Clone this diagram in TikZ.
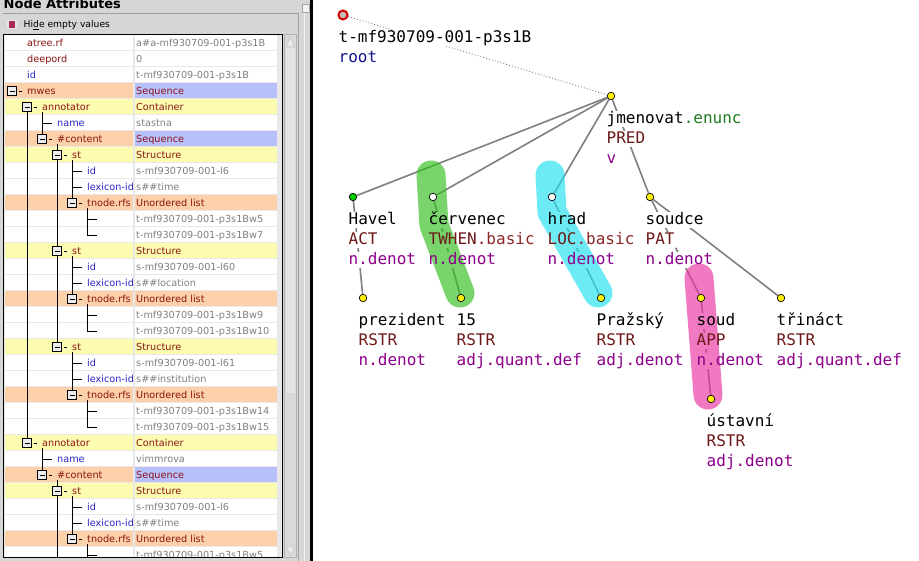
\documentclass[tikz,border=0pt]{standalone}
\usepackage{fontspec}
\setmainfont{DejaVu Sans}
\newfontfamily\treefont{DejaVu Sans Mono}

\definecolor{panel}{RGB}{214,214,214}
\definecolor{tablebg}{RGB}{232,232,232}
\definecolor{peach}{RGB}{252,208,168}
\definecolor{seqblue}{RGB}{184,192,252}
\definecolor{lemon}{RGB}{252,252,176}
\definecolor{attrred}{RGB}{140,20,20}
\definecolor{attrblue}{RGB}{40,40,200}
\definecolor{valgray}{RGB}{128,128,128}
\definecolor{boxpink}{RGB}{170,40,90}
\definecolor{functor}{RGB}{110,24,24}
\definecolor{basic}{RGB}{140,40,40}
\definecolor{nodetype}{RGB}{140,0,140}
\definecolor{enunc}{RGB}{30,125,30}
\definecolor{rootblue}{RGB}{20,20,140}
\definecolor{edgegray}{RGB}{128,128,128}
\definecolor{hgreen}{RGB}{50,190,30}
\definecolor{hcyan}{RGB}{30,225,240}
\definecolor{hpink}{RGB}{235,50,160}

\pgfdeclarelayer{back}
\pgfdeclarelayer{edges}
\pgfdeclarelayer{masks}
\pgfdeclarelayer{hatch}
\pgfsetlayers{back,edges,masks,hatch,main}

\begin{document}
\begin{tikzpicture}[x=1pt,y=-1pt,
    tab/.style={anchor=base west,inner sep=0pt,font=\fontsize{9.7}{11}\selectfont},
    lab/.style={anchor=base west,inner xsep=1pt,inner ysep=0pt,text height=12pt,text depth=3pt,
                font=\treefont\fontsize{16}{20}\selectfont},
    dot/.style={circle,draw,inner sep=0pt,minimum size=7.5pt,line width=.7pt},
    rootdot/.style={circle,draw=red!85!black,fill=gray!50,line width=2pt,inner sep=0pt,minimum size=9pt},
    edge/.style={edgegray,line width=1.6pt},
    rootedge/.style={edgegray,line width=.8pt,dash pattern=on 1pt off 2pt},
    hatch/.style={draw=#1,line width=29pt,line cap=round,line join=round,draw opacity=.65},
    expander/.style={draw,fill=gray!15,minimum size=9pt,inner sep=0pt,line width=.8pt,
                     path picture={\draw[line width=.8pt] (path picture bounding box.center) ++(-2.5pt,0) -- ++(5pt,0);}}]

    \useasboundingbox (0,0) rectangle (919,561);

    % panels
    \begin{pgfonlayer}{back}
        \fill[white] (313,0) rectangle (919,561);
    \end{pgfonlayer}
    \fill[panel] (0,0) rectangle (310,561);
    \fill[black] (310,0) rectangle (313,561);
    \draw[gray!75] (2.5,13.5) -- (298.5,13.5) -- (298.5,561);
    \draw[white!90!gray] (304.5,12) -- (304.5,561);
    \draw[gray!70,fill=gray!10] (302.5,4.5) rectangle (309.5,12.5);

    \node (title) [anchor=base west,inner sep=0pt,font=\bfseries\fontsize{13}{15}\selectfont] at (3.5,8.3) {Node Attributes};
    \node (hidebox) [draw=gray!20,fill=boxpink,line width=1.2pt,minimum size=8pt,inner sep=0pt] at (12,24.5) {};
    \node (hidelbl) [tab,font=\fontsize{9.2}{11}\selectfont] at (23.5,27.5) {Hi\underline{d}e empty values};

    % attribute table
    \fill[tablebg] (3,34) rectangle (283,558);
    \begin{scope}
        \clip (3.5,34.5) rectangle (282.5,557.5);
        \foreach \ry/\tx/\nm/\nc/\val/\vc/\lc/\rc [count=\i] in {
            43/27/atree.rf/attrred/a\#a-mf930709-001-p3s1B/valgray/white/white,
            59/27/deepord/attrred/0/valgray/white/white,
            75/27/id/attrblue/t-mf930709-001-p3s1B/valgray/white/white,
            91/27/mwes/attrred/Sequence/attrred/peach/seqblue,
            107/42/annotator/attrred/Container/attrred/lemon/lemon,
            123/57/name/attrblue/stastna/valgray/white/white,
            139/57/\#content/attrred/Sequence/attrred/peach/seqblue,
            155/72/st/attrred/Structure/attrred/lemon/lemon,
            171/87/id/attrblue/s-mf930709-001-l6/valgray/white/white,
            187/87/lexicon-id/attrblue/s\#\#time/valgray/white/white,
            203/87/tnode.rfs/attrred/Unordered list/attrred/peach/peach,
            219/87//attrred/t-mf930709-001-p3s1Bw5/valgray/white/white,
            235/87//attrred/t-mf930709-001-p3s1Bw7/valgray/white/white,
            251/72/st/attrred/Structure/attrred/lemon/lemon,
            267/87/id/attrblue/s-mf930709-001-l60/valgray/white/white,
            283/87/lexicon-id/attrblue/s\#\#location/valgray/white/white,
            299/87/tnode.rfs/attrred/Unordered list/attrred/peach/peach,
            315/87//attrred/t-mf930709-001-p3s1Bw9/valgray/white/white,
            331/87//attrred/t-mf930709-001-p3s1Bw10/valgray/white/white,
            347/72/st/attrred/Structure/attrred/lemon/lemon,
            363/87/id/attrblue/s-mf930709-001-l61/valgray/white/white,
            379/87/lexicon-id/attrblue/s\#\#institution/valgray/white/white,
            395/87/tnode.rfs/attrred/Unordered list/attrred/peach/peach,
            411/87//attrred/t-mf930709-001-p3s1Bw14/valgray/white/white,
            427/87//attrred/t-mf930709-001-p3s1Bw15/valgray/white/white,
            443/42/annotator/attrred/Container/attrred/lemon/lemon,
            459/57/name/attrblue/vimmrova/valgray/white/white,
            475/57/\#content/attrred/Sequence/attrred/peach/seqblue,
            491/72/st/attrred/Structure/attrred/lemon/lemon,
            507/87/id/attrblue/s-mf930709-001-l6/valgray/white/white,
            523/87/lexicon-id/attrblue/s\#\#time/valgray/white/white,
            539/87/tnode.rfs/attrred/Unordered list/attrred/peach/peach,
            555/87//attrred/t-mf930709-001-p3s1Bw5/valgray/white/white}{
            \fill[\lc] (5,\ry-8) rectangle (133,\ry+7);
            \fill[\rc] (135,\ry-8) rectangle (277,\ry+7);
            \node (nm\i) [tab,\nc] at (\tx,\ry+3.5) {\nm};
            \node (val\i) [tab,\vc] at (136,\ry+3.5) {\val};
        }

        % tree lines
        \draw (27,107) -- (27,443);
        \draw (42,112) -- (42,139)  (42,123) -- (52,123);
        \draw (57,144) -- (57,347);
        \draw (72,160) -- (72,203)  (72,171) -- (82,171)  (72,187) -- (82,187);
        \draw (87,208) -- (87,235)  (87,219) -- (97,219)  (87,235) -- (97,235);
        \draw (72,256) -- (72,299)  (72,267) -- (82,267)  (72,283) -- (82,283);
        \draw (87,304) -- (87,331)  (87,315) -- (97,315)  (87,331) -- (97,331);
        \draw (72,352) -- (72,395)  (72,363) -- (82,363)  (72,379) -- (82,379);
        \draw (87,400) -- (87,427)  (87,411) -- (97,411)  (87,427) -- (97,427);
        \draw (42,448) -- (42,475)  (42,459) -- (52,459);
        \draw (57,480) -- (57,560);
        \draw (72,496) -- (72,539)  (72,507) -- (82,507)  (72,523) -- (82,523);
        \draw (87,544) -- (87,560)  (87,555) -- (97,555);

        \foreach \bx/\by in {12/91,27/107,42/139,57/155,72/203,57/251,72/299,57/347,
                             72/395,27/443,42/475,57/491,72/539}{
            \node (exp\by) [expander] at (\bx,\by) {};
            \draw (\bx+7,\by) -- (\bx+9.5,\by);
        }
    \end{scope}
    \draw[line width=1pt] (3.5,34.5) rectangle (282.5,557.5);

    % scrollbar
    \draw[gray!60,fill=gray!30] (284.5,34.5) rectangle (296.5,557.5);
    \draw[white!80!gray,fill=gray!22] (286.5,48.5) rectangle (294.5,392);
    \draw[gray!55,fill=gray!15] (286.5,46) -- (290.5,37.5) -- (294.5,46) -- cycle;
    \draw[gray!55,fill=gray!15] (286.5,547) -- (290.5,555.5) -- (294.5,547) -- cycle;

    % dependency tree
    \path   (343,15)  node (root)   [rootdot] {}
            (611,96)  node (jm)     [dot,fill=yellow] {}
            (353,197) node (hav)    [dot,fill=green!80!black] {}
            (433,197) node (cerv)   [dot,fill=white] {}
            (552,197) node (hrad)   [dot,fill=white] {}
            (650,197) node (soudce) [dot,fill=yellow] {}
            (363,298) node (prez)   [dot,fill=yellow] {}
            (461,298) node (n15)    [dot,fill=yellow] {}
            (601,298) node (praz)   [dot,fill=yellow] {}
            (701,298) node (soud)   [dot,fill=yellow] {}
            (781,298) node (trin)   [dot,fill=yellow] {}
            (711,399) node (ustav)  [dot,fill=yellow] {};

    \path   (337.5,42.5)  node (rootA) [lab] {t-mf930709-001-p3s1B}
            (337.5,62.5)  node (rootB) [lab,rootblue] {root}
            (605.5,123.5) node (jmA)   [lab] {jmenovat\textcolor{enunc}{.enunc}}
            (605.5,143.5) node (jmB)   [lab,functor] {PRED}
            (605.5,163.5) node (jmC)   [lab,nodetype] {v}
            (347.5,224.5) node (havA)  [lab] {Havel}
            (347.5,244.5) node (havB)  [lab,functor] {ACT}
            (347.5,264.5) node (havC)  [lab,nodetype] {n.denot}
            (427.5,224.5) node (cervA) [lab] {červenec}
            (427.5,244.5) node (cervB) [lab,functor] {TWHEN\textcolor{basic}{.basic}}
            (427.5,264.5) node (cervC) [lab,nodetype] {n.denot}
            (546.5,224.5) node (hradA) [lab] {hrad}
            (546.5,244.5) node (hradB) [lab,functor] {LOC\textcolor{basic}{.basic}}
            (546.5,264.5) node (hradC) [lab,nodetype] {n.denot}
            (644.5,224.5) node (soudceA) [lab] {soudce}
            (644.5,244.5) node (soudceB) [lab,functor] {PAT}
            (644.5,264.5) node (soudceC) [lab,nodetype] {n.denot}
            (357.5,325.5) node (prezA) [lab] {prezident}
            (357.5,345.5) node (prezB) [lab,functor] {RSTR}
            (357.5,365.5) node (prezC) [lab,nodetype] {n.denot}
            (455.5,325.5) node (n15A)  [lab] {15}
            (455.5,345.5) node (n15B)  [lab,functor] {RSTR}
            (455.5,365.5) node (n15C)  [lab,nodetype] {adj.quant.def}
            (595.5,325.5) node (prazA) [lab] {Pražský}
            (595.5,345.5) node (prazB) [lab,functor] {RSTR}
            (595.5,365.5) node (prazC) [lab,nodetype] {adj.denot}
            (695.5,325.5) node (soudA) [lab] {soud}
            (695.5,345.5) node (soudB) [lab,functor] {APP}
            (695.5,365.5) node (soudC) [lab,nodetype] {n.denot}
            (775.5,325.5) node (trinA) [lab] {třináct}
            (775.5,345.5) node (trinB) [lab,functor] {RSTR}
            (775.5,365.5) node (trinC) [lab,nodetype] {adj.quant.def}
            (705.5,426.5) node (ustavA) [lab] {ústavní}
            (705.5,446.5) node (ustavB) [lab,functor] {RSTR}
            (705.5,466.5) node (ustavC) [lab,nodetype] {adj.denot};

    \begin{pgfonlayer}{edges}
        \draw[rootedge] (root) -- (jm);
        \draw[edge] (jm) -- (hav);
        \draw[edge] (jm) -- (cerv);
        \draw[edge] (jm) -- (hrad);
        \draw[edge] (jm) -- (soudce);
        \draw[edge] (hav) -- (prez);
        \draw[edge] (cerv) -- (n15);
        \draw[edge] (hrad) -- (praz);
        \draw[edge] (soudce) -- (soud);
        \draw[edge] (soudce) -- (trin);
        \draw[edge] (soud) -- (ustav);
    \end{pgfonlayer}

    \begin{pgfonlayer}{masks}
        \foreach \n in {rootA,rootB,jmA,jmB,jmC,havA,havB,havC,cervA,cervB,cervC,hradA,hradB,hradC,
                        soudceA,soudceB,soudceC,prezA,prezB,prezC,n15A,n15B,n15C,prazA,prazB,prazC,
                        soudA,soudB,soudC,trinA,trinB,trinC,ustavA,ustavB,ustavC}
            \fill[white] (\n.south west) rectangle (\n.north east);
    \end{pgfonlayer}

    \begin{pgfonlayer}{hatch}
        \draw[hatch=hgreen] (431,175) -- (434,225) -- (460,293);
        \draw[hatch=hcyan]  (550,175) -- (552,212) -- (598,293);
        \draw[hatch=hpink]  (699,278) -- (708,395);
    \end{pgfonlayer}
\end{tikzpicture}
\end{document}
